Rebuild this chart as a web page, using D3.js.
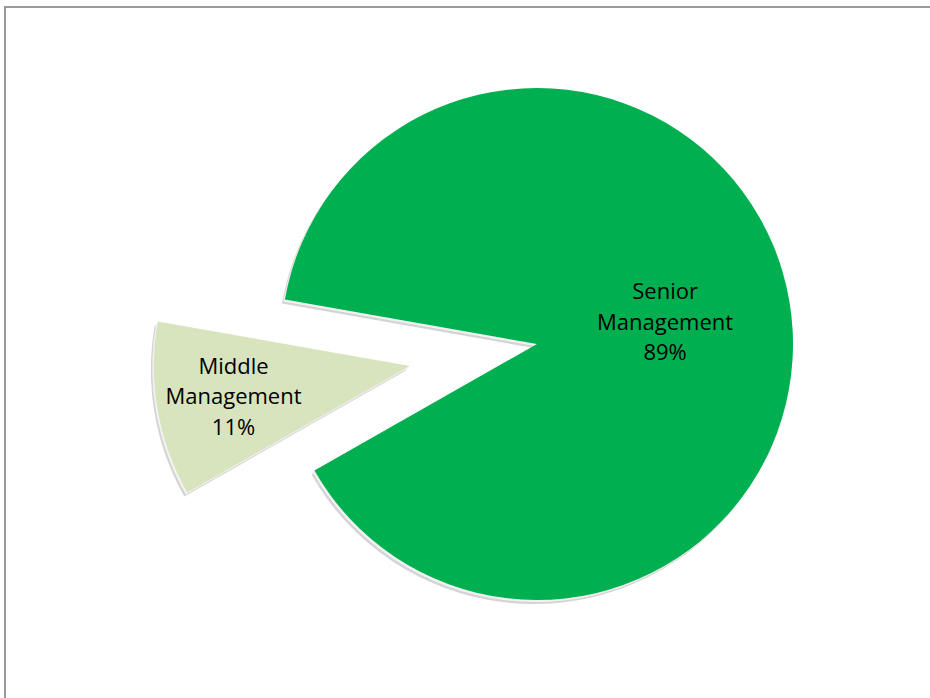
<!DOCTYPE html>
<html>
<head>
<meta charset="utf-8">
<script src="https://cdn.jsdelivr.net/npm/d3@7/dist/d3.min.js"></script>
<style>
  html, body { margin: 0; padding: 0; background: #fff; }
  svg { display: block; }
</style>
</head>
<body>
<svg id="chart" width="930" height="698"></svg>
<script>
// Share of respondents by management level
const categories = ["Senior Management", "Middle Management"];
const shares = [89, 11];
const labelLines = [["Senior", "Management", "89%"], ["Middle", "Management", "11%"]];
const sliceColors = ["#00b050", "#d7e4bd"];
const explodedIndex = 1;

const W = 930, H = 698;
const cx = 537, cy = 344, R = 256;
const rotation = 280 * Math.PI / 180;   // first slice starts here, clockwise
const explode = 129;                     // pull-out distance of the exploded slice
const fontSize = 22, lineGap = 30.5;

const svg = d3.select("#chart");

// frame (only its top and left edges fall inside the page)
svg.append("rect")
  .attr("x", 5).attr("y", 7)
  .attr("width", W + 20).attr("height", H + 20)
  .attr("fill", "none").attr("stroke", "#9a9a9a").attr("stroke-width", 2);

const data = categories.map((c, i) => ({ name: c, value: shares[i], i }));

const pie = d3.pie().value(d => d.value).sort(null)
  .startAngle(rotation).endAngle(rotation + 2 * Math.PI);
const arcs = pie(data);

const arc = d3.arc().innerRadius(0).outerRadius(R);

function offsetOf(a) {
  if (a.data.i !== explodedIndex) return [0, 0];
  const mid = (a.startAngle + a.endAngle) / 2;
  return [Math.sin(mid) * explode, -Math.cos(mid) * explode];
}

const g = svg.append("g").attr("transform", `translate(${cx},${cy})`);

const slices = g.selectAll("g.slice").data(arcs).join("g")
  .attr("class", "slice")
  .attr("transform", a => { const o = offsetOf(a); return `translate(${o[0]},${o[1]})`; });

// bevel rim under each slice
slices.append("path")
  .attr("d", arc)
  .attr("transform", "translate(-3,4)")
  .attr("fill", "#d4d4d4");
slices.append("path")
  .attr("d", arc)
  .attr("transform", "translate(-1.5,2)")
  .attr("fill", "#f2f2f2");

slices.append("path")
  .attr("d", arc)
  .attr("fill", (a) => sliceColors[a.data.i]);

// data labels
const labelRadius = [130, 179];
slices.each(function (a) {
  const mid = (a.startAngle + a.endAngle) / 2;
  const r = labelRadius[a.data.i];
  const lx = Math.sin(mid) * r, ly = -Math.cos(mid) * r;
  const lines = labelLines[a.data.i];
  const t = d3.select(this).append("text")
    .attr("text-anchor", "middle")
    .attr("font-family", "'Open Sans', sans-serif")
    .attr("font-size", fontSize)
    .attr("fill", "#000");
  lines.forEach((s, k) => {
    t.append("tspan")
      .attr("x", lx)
      .attr("y", ly + (k - (lines.length - 1) / 2) * lineGap)
      .attr("dy", "0.35em")
      .text(s);
  });
});
</script>
</body>
</html>
